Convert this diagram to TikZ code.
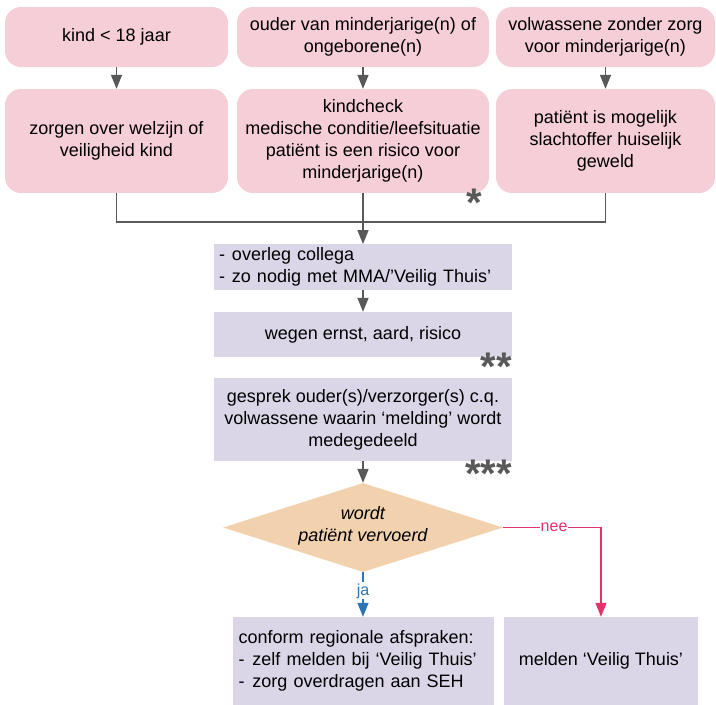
\documentclass[tikz,border=0pt]{standalone}
\usepackage{fontspec}
\setmainfont{Liberation Sans}
\usepackage{tikz}
\usetikzlibrary{arrows.meta,shapes.geometric}
\definecolor{roze}{HTML}{F6CED8}
\definecolor{lila}{HTML}{DAD6E8}
\definecolor{perzik}{HTML}{F2D2AE}
\definecolor{grijs}{HTML}{595959}
\definecolor{neelijn}{HTML}{E2336B}
\definecolor{jalijn}{HTML}{2E74B5}
\newcommand{\streep}[1]{\makebox[#1][l]{-}}

\begin{document}
\begin{tikzpicture}[
  x=1pt, y=-1pt,
  font=\fontsize{18}{22}\selectfont, >={Triangle[length=14pt,width=11pt]},
  pijl/.style={->, line width=1.5pt, grijs},
  lijn/.style={line width=1.5pt, grijs},
  cel/.style={rounded corners=16pt, fill=roze, align=center, inner sep=4pt},
  stap/.style={fill=lila, align=center, inner sep=4pt},
  lijst/.style={fill=lila, align=left, inner xsep=5pt},
  ster/.style={grijs, font=\fontsize{40}{40}\selectfont\bfseries, inner sep=0pt},
  keuze/.style={fill=white, inner sep=1pt, font=\fontsize{16}{16}\selectfont},
]
\useasboundingbox (0,0) rectangle (716,705);
\def\ka{116.5}\def\kb{363}\def\kc{605.5}
\def\ra{37}\def\rb{141}

% ===== two rows of pink cells =====
\node[cel, minimum width=223pt, minimum height=60pt] (kind) at (\ka,\ra) {kind < 18 jaar};
\node[cel, minimum width=252pt, minimum height=60pt] (ouder) at (\kb,\ra) {ouder van minderjarige(n) of\\ongeborene(n)};
\node[cel, minimum width=219pt, minimum height=60pt] (volw) at (\kc,\ra) {volwassene zonder zorg\\voor minderjarige(n)};
\node[cel, minimum width=223pt, minimum height=104pt] (zorgen) at (\ka,\rb) {zorgen over welzijn of\\veiligheid kind};
\node[cel, minimum width=252pt, minimum height=104pt] (risico) at (\kb,\rb) {kindcheck\\medische conditie/leefsituatie\\patiënt is een risico voor\\minderjarige(n)};
\node[cel, minimum width=219pt, minimum height=104pt] (geweld) at (\kc,\rb) {patiënt is mogelijk\\slachtoffer huiselijk\\geweld};
\node[ster, anchor=north] (ster1) at (474,189) {*};

\draw[pijl] (kind.south) -- (zorgen.north);
\draw[pijl] (ouder.south) -- (risico.north);
\draw[pijl] (volw.south) -- (geweld.north);

% ===== merge into the middle column =====
\coordinate (samen) at (\kb,222);
\draw[lijn] (zorgen.south) |- (samen);
\draw[lijn] (geweld.south) |- (samen);

% ===== lilac steps =====
\node[lijst, text width=288pt, minimum height=44pt] (overleg) at (\kb,267)
  {\streep{13pt}overleg collega\\\streep{13pt}zo nodig met MMA/’Veilig Thuis’};
\node[stap, minimum width=298pt, minimum height=45pt] (wegen) at (\kb,334.5) {wegen ernst, aard, risico};
\node[stap, minimum width=298pt, minimum height=83pt] (gesprek) at (\kb,419.5)
  {gesprek ouder(s)/verzorger(s) c.q.\\volwassene waarin ‘melding’ wordt\\medegedeeld};
\node[ster, anchor=north east] (ster2) at (512,353) {**};
\node[ster, anchor=north east] (ster3) at (512,460) {***};

\draw[pijl] (risico.south) -- (overleg.north);
\draw[pijl] (overleg.south) -- (wegen.north);

% ===== decision =====
\node[diamond, aspect=3.2, fill=perzik, inner sep=0pt, minimum width=280pt, minimum height=89pt,
      align=center, font=\fontsize{18}{22}\selectfont\itshape] (vervoer) at (\kb,527.5)
  {wordt\\patiënt vervoerd\\[-14pt]\mbox{}};
\draw[pijl] (gesprek.south) -- (vervoer.north);

\node[lijst, text width=249pt, inner xsep=6pt, minimum height=88pt] (regio) at (\kb,661)
  {conform regionale afspraken:\\\streep{14pt}zelf melden bij ‘Veilig Thuis’\\\streep{14pt}zorg overdragen aan SEH};
\node[stap, minimum width=194pt, minimum height=88pt] (melden) at (601,661) {melden ‘Veilig Thuis’};

\draw[->, line width=1.3pt, jalijn] (vervoer.south) -- (regio.north)
  node[keuze, pos=0.42, text=jalijn] {ja};
\draw[->, line width=1.3pt, neelijn] (vervoer.east) -| (melden.north)
  node[keuze, pos=0.26, text=neelijn] {nee};
\end{tikzpicture}
\end{document}
